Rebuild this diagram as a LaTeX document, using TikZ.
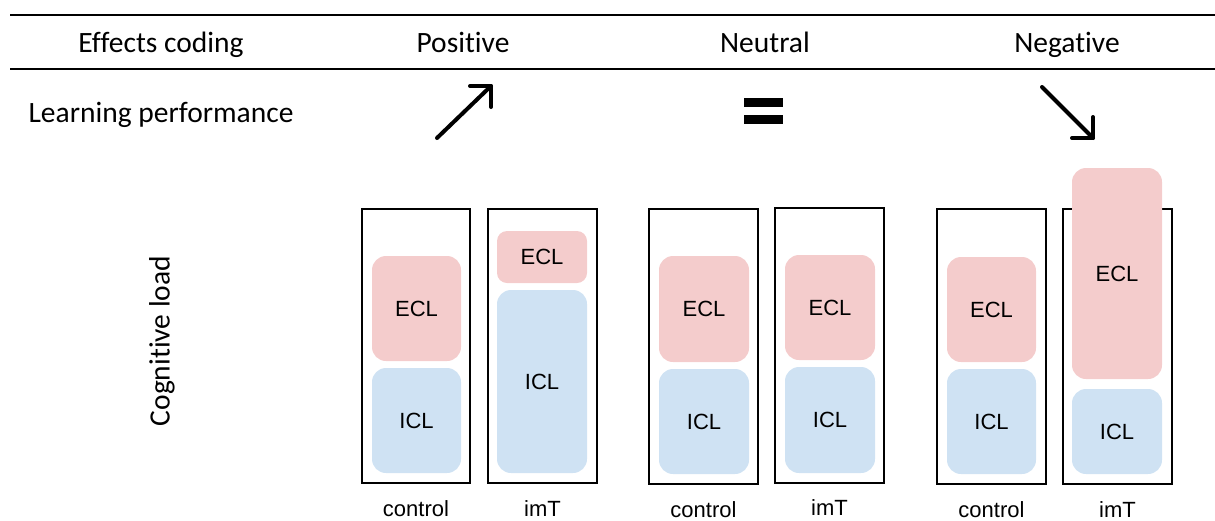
\documentclass[tikz,border=0pt]{standalone}
\usepackage{fontspec}
\setmainfont{Carlito}[Ligatures={NoCommon}]
\newfontfamily\arial{Liberation Sans}
\definecolor{eclpink}{HTML}{F4CCCC}
\definecolor{iclblue}{HTML}{CFE2F3}
\begin{document}
\begin{tikzpicture}[x=1pt,y=-1pt,
  outer/.style={draw=black,line width=1.4pt,fill=none},
  ecl/.style={fill=eclpink,rounded corners=14pt},
  icl/.style={fill=iclblue,rounded corners=14pt},
  boxlbl/.style={font=\arial\fontsize{22}{26}\selectfont,inner sep=0pt},
  head/.style={font=\fontsize{29.5}{34}\selectfont,inner sep=0pt},
  rule/.style={line width=2pt},
  bigarrow/.style={line width=4pt,line cap=round,line join=round}]
\useasboundingbox (0,0) rectangle (1215,520);
% header rules
\coordinate (r1a) at (10,15); \coordinate (r1b) at (1215,15);
\coordinate (r2a) at (10,69); \coordinate (r2b) at (1215,69);
\draw[rule] (r1a) -- (r1b);
\draw[rule] (r2a) -- (r2b);
% header texts
\node[head,anchor=base] (hEff) at (161,52) {Effects coding};
\node[head,anchor=base] (hPos) at (463,52) {Positive};
\node[head,anchor=base] (hNeu) at (765,52) {Neutral};
\node[head,anchor=base] (hNeg) at (1067,52) {Negative};
\node[head,anchor=base] (hLP) at (161,122) {Learning performance};
\node[head,rotate=90] (hCL) at (162,341) {Cognitive load};
% performance symbols
\coordinate (pt) at (437,138); \coordinate (ph) at (491,86);
\draw[bigarrow] (pt) -- (ph);
\draw[bigarrow] (470,86) -- (ph) -- (491,107);
\fill (744,98) rectangle (783,107);
\fill (744,115) rectangle (783,124);
\coordinate (nt) at (1042,87); \coordinate (nh) at (1093,138);
\draw[bigarrow] (nt) -- (nh);
\draw[bigarrow] (1093,117) -- (nh) -- (1072,138);
% ---- Positive ----
\draw[outer] (362,209) rectangle (470,483);
\draw[outer] (488,209) rectangle (597,483);
\fill[ecl] (372,256) rectangle (461,361);
\fill[icl] (372,368) rectangle (461,473);
\fill[ecl,rounded corners=10pt] (497,231) rectangle (587,283);
\fill[icl] (497,290) rectangle (587,473);
\node[boxlbl] (p1e) at (416.5,308.5) {ECL};
\node[boxlbl] (p1i) at (416.5,420.5) {ICL};
\node[boxlbl] (p2e) at (542,257) {ECL};
\node[boxlbl] (p2i) at (542,381.5) {ICL};
\node[boxlbl,anchor=base] (p1l) at (416,516) {control};
\node[boxlbl,anchor=base] (p2l) at (542.5,516) {imT};
% ---- Neutral ----
\draw[outer] (649,209) rectangle (758,484);
\draw[outer] (775,208) rectangle (884,483);
\fill[ecl] (659,256) rectangle (749,362);
\fill[icl] (659,369) rectangle (749,474);
\fill[ecl] (785,255) rectangle (875,360);
\fill[icl] (785,367) rectangle (875,473);
\node[boxlbl] (n1e) at (704,309) {ECL};
\node[boxlbl] (n1i) at (704,421.5) {ICL};
\node[boxlbl] (n2e) at (830,307.5) {ECL};
\node[boxlbl] (n2i) at (830,420) {ICL};
\node[boxlbl,anchor=base] (n1l) at (703.5,517) {control};
\node[boxlbl,anchor=base] (n2l) at (829.5,515) {imT};
% ---- Negative ----
\draw[outer] (937,209) rectangle (1046,484);
\draw[outer] (1063,209) rectangle (1172,484);
\fill[ecl] (947,257) rectangle (1036,362);
\fill[icl] (947,369) rectangle (1036,474);
\fill[ecl] (1072,168) rectangle (1162,379);
\fill[icl] (1072,389) rectangle (1162,474);
\node[boxlbl] (g1e) at (991.5,309.5) {ECL};
\node[boxlbl] (g1i) at (991.5,421.5) {ICL};
\node[boxlbl] (g2e) at (1117,273.5) {ECL};
\node[boxlbl] (g2i) at (1117,431.5) {ICL};
\node[boxlbl,anchor=base] (g1l) at (991.5,517) {control};
\node[boxlbl,anchor=base] (g2l) at (1117.5,517) {imT};
\end{tikzpicture}
\end{document}
